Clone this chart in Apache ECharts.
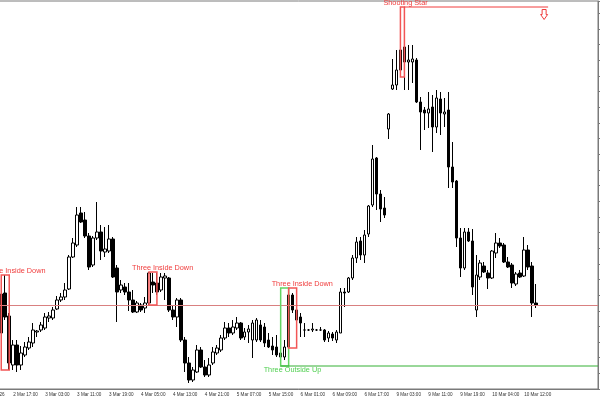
<!DOCTYPE html>
<html><head><meta charset="utf-8">
<script src="https://cdn.jsdelivr.net/npm/echarts@6/dist/echarts.min.js"></script>
<style>html,body{margin:0;padding:0;background:#fff}#c{width:600px;height:400px}</style>
</head><body><div id="c"></div>
<script>
// time-axis labels (one every 8 hourly bars, the first one 5 bars before the first visible bar)
const tickLabels = ['2 Mar 2026','2 Mar 17:00','3 Mar 03:00','3 Mar 11:00','3 Mar 19:00','4 Mar 05:00','4 Mar 13:00','4 Mar 21:00','5 Mar 07:00','5 Mar 15:00','6 Mar 01:00','6 Mar 09:00','6 Mar 17:00','9 Mar 03:00','9 Mar 11:00','9 Mar 19:00','10 Mar 04:00','10 Mar 12:00'];
const leadBars = 5;      // hidden bars before the first visible candle
const totalSlots = 155;  // bar slots on the axis (incl. chart shift to the right)

// OHLC values (price units)
const open = [56,96,73,24,44,24,34,41,46,57, 59,61,71,71,80,89,92,100,132,144, 176,169,153,124,151,157,137,138,150,121,
 99,102,97,89,77,84,81,86,107,106, 99,111,111,79,72,89,49,26,9,17, 39,22,14,26,36,39,51,61,56,61,
 66,52,57,49,49,64,62,49,43,42, 36,32,42,94,79,72,59,59,59,59, 59,59,51,55,49,56,97,97,111,131,
 148,134,155,184,231,195,181,260,300,304, 319,342,327,327,329,287,279,276,282,262, 290,275,279,222,208,151,121,157,148,79,
 112,123,116,111,136,146,144,127,124,105, 116,113,139,123,86];
const close = [95,72,26,44,24,36,42,47,59,58, 64,72,73,79,89,92,99,132,146,174, 167,153,122,151,157,138,140,150,112,97,
 104,97,89,77,86,79,86,116,104,97, 112,113,79,72,89,49,26,9,19,39, 22,14,24,37,41,51,61,56,62,66,
 51,57,60,66,69,49,46,42,39,34, 32,42,94,79,69,66,59,59,60,59, 59,49,56,51,57,97,96,111,131,147,
 134,154,183,230,195,180,174,275,304,319, 339,327,329,330,287,277,276,280,262,291, 276,277,222,207,151,121,157,148,102,114,
 126,117,111,138,146,143,127,122,106,115, 112,139,122,86,84];
const high = [104,114,76,49,49,43,47,52,66,59, 67,76,77,82,93,96,106,134,151,182, 182,177,156,153,187,164,162,164,152,124,
 109,106,106,99,88,86,92,117,116,116, 116,116,112,84,91,91,52,32,22,44, 42,29,31,42,44,54,67,66,69,72,
 67,61,64,69,71,69,66,56,52,54, 39,49,101,96,82,76,66,60,66,60, 62,60,58,57,59,101,101,112,134,152,
 152,159,184,244,232,199,192,276,330,339, 349,382,344,344,331,292,282,297,294,299, 297,291,297,247,209,161,161,161,160,134,
 129,127,119,139,156,151,146,132,126,117, 119,152,144,127,105];
const low = [54,69,19,19,17,19,32,39,42,52, 57,59,67,69,79,87,89,99,131,142, 166,151,119,122,149,129,132,136,111,67,
 96,94,78,76,76,77,76,84,96,94, 97,89,77,69,62,47,17,6,7,16, 21,12,12,24,34,37,49,52,54,59,
 49,49,46,31,47,47,42,41,34,32, 23,29,41,76,66,52,52,58,57,58, 58,47,47,48,46,56,82,96,109,126,
 129,126,152,182,179,167,171,250,299,299, 312,299,299,306,286,239,259,261,237,256, 254,262,201,201,142,112,119,147,94,72,
 109,116,100,110,131,141,126,121,101,103, 111,112,119,72,81];

// candlestick patterns (bar indexes and price range of the marked box)
const patternNames = ['Three Inside Down','Three Inside Down','Three Outside Up','Three Inside Down','Shooting Star'];
const patternDir   = ['down','down','up','down','down'];
const patternFrom  = [0, 37, 70, 72, 100];
const patternTo    = [2, 39, 72, 74, 101];
const patternHigh  = [114, 117, 101, 101, 382];
const patternLow   = [19, 84, 23, 41, 312];

// level lines drawn from patterns (null end = to the right edge)
const levelDir   = ['up', 'down'];
const levelFrom  = [70, 101];
const levelTo    = [null, 136];
const levelPrice = [23, 382];

const cats = [];
for (let i = 0; i < totalSlots; i++) {
  const t = (i % 8 === 0) ? tickLabels[i / 8] : undefined;
  cats.push(t !== undefined ? t : String(i));
}
const showIdx = (idx, val) => idx % 8 === 0 && isNaN(Number(val));

const candleData = open.map((o, i) => [i + leadBars, o, close[i], low[i], high[i]]);
const patternData = patternNames.map((n, k) => [patternFrom[k] + leadBars, patternTo[k] + leadBars, patternHigh[k], patternLow[k], k]);
const levelData = levelPrice.map((p, k) => [levelFrom[k] + leadBars, (levelTo[k] == null ? levelFrom[k] : levelTo[k]) + leadBars, p, k]);

const RED = '#f03c3c', RED_BOX = '#f25656', GREEN = '#4fcf4f', GREEN_BOX = '#62d462', GREEN_LINE = '#34b034';
const FONT = '"Liberation Sans", Arial, sans-serif';

function renderPattern(params, api) {
  const k = api.value(4);
  const a = api.coord([api.value(0), api.value(2)]);
  const b = api.coord([api.value(1), api.value(3)]);
  const up = patternDir[k] === 'up';
  return {
    type: 'group',
    children: [
      { type: 'rect', shape: { x: a[0], y: a[1], width: b[0] - a[0], height: b[1] - a[1] },
        style: { fill: 'none', stroke: up ? GREEN_BOX : RED_BOX, lineWidth: 1.5 } },
      { type: 'text', x: a[0] - 17, y: up ? b[1] + 4 : a[1] - 4,
        style: { text: patternNames[k], fill: up ? GREEN : RED, fontSize: 7.3, fontFamily: FONT,
                 align: 'left', verticalAlign: 'middle' } }
    ]
  };
}

function renderLevel(params, api) {
  const k = api.value(3);
  const a = api.coord([api.value(0), api.value(2)]);
  const up = levelDir[k] === 'up';
  const children = [];
  if (levelTo[k] == null) {
    const x2 = params.coordSys.x + params.coordSys.width;
    children.push({ type: 'line', shape: { x1: a[0], y1: a[1], x2: x2, y2: a[1] },
      style: { stroke: up ? GREEN_LINE : RED, lineWidth: 1 } });
  } else {
    const b = api.coord([api.value(1), api.value(2)]);
    children.push({ type: 'line', shape: { x1: a[0], y1: a[1], x2: b[0] + 4, y2: a[1] },
      style: { stroke: up ? GREEN_LINE : RED, lineWidth: 1 } });
    const cx = b[0], ty = b[1] + 2.5;
    children.push({ type: 'polygon', shape: { points: [[cx - 2, ty], [cx + 2, ty], [cx + 2, ty + 5], [cx + 3.5, ty + 5],
        [cx, ty + 10], [cx - 3.5, ty + 5], [cx - 2, ty + 5]] },
      style: { fill: '#fff', stroke: RED, lineWidth: 1 } });
  }
  return { type: 'group', children };
}

const chart = echarts.init(document.getElementById('c'), null, { renderer: 'canvas' });
chart.setOption({
  animation: false,
  backgroundColor: '#ffffff',
  grid: { left: -20.7, right: 2, top: 1, bottom: 11, show: true, borderColor: '#7a7a7a', borderWidth: 1,
          containLabel: false, outerBoundsMode: 'none' },
  xAxis: {
    type: 'category', data: cats, boundaryGap: true,
    axisLine: { lineStyle: { color: '#7a7a7a' } },
    axisTick: { alignWithLabel: true, interval: showIdx, length: 5, lineStyle: { color: '#7a7a7a' } },
    axisLabel: { interval: showIdx, formatter: v => (isNaN(Number(v)) ? v : ''), align: 'left',
                 fontSize: 4.6, fontFamily: FONT, color: '#333', margin: 3 },
    splitLine: { show: false }
  },
  yAxis: {
    type: 'value', position: 'right', min: 0, max: 388, interval: 15.65, scale: false,
    axisLine: { show: true, lineStyle: { color: '#7a7a7a' } },
    axisTick: { show: true, inside: false, length: 3, lineStyle: { color: '#7a7a7a' } },
    axisLabel: { show: false },
    splitLine: { show: false }
  },
  series: [
    {
      type: 'candlestick', data: candleData, encode: { x: 0, y: [1, 2, 3, 4] },
      barWidth: 3,
      itemStyle: { color: '#ffffff', color0: '#000000', borderColor: '#000000', borderColor0: '#000000', borderWidth: 1 },
      markLine: { silent: true, symbol: 'none', label: { show: false },
                  lineStyle: { color: '#d98080', width: 1, type: 'solid' },
                  data: [{ yAxis: close[close.length - 1] }] }
    },
    { type: 'custom', renderItem: renderPattern, data: patternData, encode: { x: [0, 1], y: [2, 3] }, z: 5, silent: true },
    { type: 'custom', renderItem: renderLevel, data: levelData, encode: { x: [0, 1], y: 2 }, z: 5, silent: true }
  ]
});
</script>
</body></html>
